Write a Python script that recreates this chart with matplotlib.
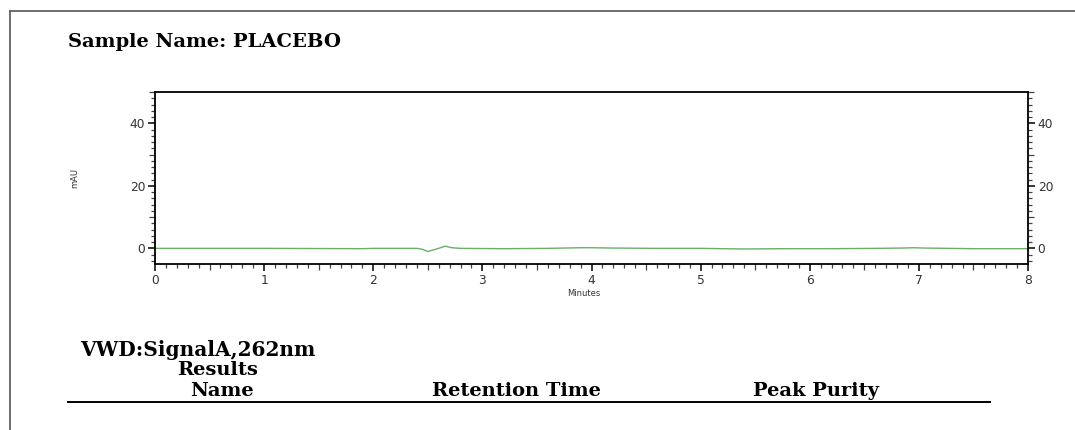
import numpy as np
import matplotlib.pyplot as plt
from matplotlib.ticker import MultipleLocator

# chromatogram trace (minutes, mAU)
time_min = [0.0, 1.0, 1.9, 2.0, 2.4, 2.45, 2.5, 2.58, 2.66, 2.72, 2.8, 3.2, 3.6, 3.9, 4.0, 4.2, 4.6, 5.0,
            5.4, 5.8, 6.2, 6.6, 6.85, 6.95, 7.05, 7.5, 8.0]
signal_mau = [0.0, 0.0, -0.1, 0.0, 0.0, -0.3, -1.0, -0.2, 0.7, 0.2, 0.0, -0.1, 0.0, 0.2, 0.2, 0.1, 0.0, 0.0,
              -0.2, -0.1, -0.1, 0.0, 0.1, 0.2, 0.1, -0.1, -0.1]

table_headers = ["Name", "Retention Time", "Peak Purity"]

serif = ["DejaVu Serif"]
sans = ["DejaVu Sans"]

W, H = 1075, 430
fig = plt.figure(figsize=(W / 100, H / 100), dpi=100)

def fx(px):
    return px / W

def fy(py):
    return 1 - py / H

# page frame
fig.add_artist(plt.Line2D([fx(10), fx(10)], [0, fy(11)], color="#555555", lw=1.2))
fig.add_artist(plt.Line2D([fx(10), 1], [fy(11), fy(11)], color="#555555", lw=1.2))

fig.text(fx(68), fy(42), "Sample Name: PLACEBO", family=serif, weight="bold",
         fontsize=14, va="center", ha="left")

ax = fig.add_axes([fx(155), fy(264), fx(1028 - 155), (264 - 92) / H])
ax.plot(time_min, signal_mau, color="#6aae6a", lw=1.0)
ax.set_xlim(0, 8)
ax.set_ylim(-5, 50)

ax.xaxis.set_major_locator(MultipleLocator(1))
ax.xaxis.set_minor_locator(MultipleLocator(0.1))
ax.yaxis.set_major_locator(MultipleLocator(20))
ax.yaxis.set_minor_locator(MultipleLocator(2))
ax.tick_params(which="major", direction="out", length=5, width=1.1, labelsize=8.8, pad=2,
               labelcolor="#333333")
ax.tick_params(which="minor", direction="out", length=3, width=0.9, color="#444444")
ax.tick_params(axis="y", which="both", right=True, labelright=True)
for lab in ax.get_xticklabels() + ax.get_yticklabels():
    lab.set_family(sans)
for sp in ax.spines.values():
    sp.set_linewidth(1.3)

# longer ticks at the half-way marks
for loc, t in zip(ax.xaxis.get_minorticklocs(), ax.xaxis.get_minor_ticks()):
    if abs(loc * 2 - round(loc * 2)) < 1e-6:
        t.tick1line.set_markersize(4.5)
for loc, t in zip(ax.yaxis.get_minorticklocs(), ax.yaxis.get_minor_ticks()):
    if abs(loc / 10 - round(loc / 10)) < 1e-6:
        t.tick1line.set_markersize(4.5)
        t.tick2line.set_markersize(4.5)

ax.set_xlabel("Minutes", family=sans, fontsize=6, color="#333333")
ax.xaxis.set_label_coords((584 - 155) / (1028 - 155), -(293 - 264) / (264 - 92), transform=ax.transAxes)
ax.xaxis.label.set_va("center")
ax.set_ylabel("mAU", family=sans, fontsize=6, color="#333333")
ax.yaxis.set_label_coords(-(155 - 75) / (1028 - 155), (264 - 178) / (264 - 92), transform=ax.transAxes)
ax.yaxis.label.set_va("center")

# results section
fig.text(fx(80), fy(350), "VWD:SignalA,262nm", family=serif, weight="bold",
         fontsize=14.5, va="center", ha="left")
fig.text(fx(177), fy(370), "Results", family=serif, weight="bold",
         fontsize=14, va="center", ha="left")
for x, h in zip([222, 516, 816], table_headers):
    fig.text(fx(x), fy(391), h, family=serif, weight="bold",
             fontsize=14, va="center", ha="center")
fig.add_artist(plt.Line2D([fx(68), fx(990)], [fy(402), fy(402)], color="black", lw=1.4))

fig.savefig("out.png", dpi=100)
